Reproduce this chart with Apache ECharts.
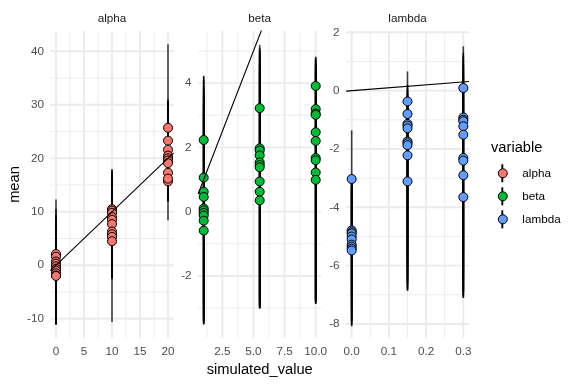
<!DOCTYPE html>
<html><head><meta charset="utf-8">
<script src="https://cdn.jsdelivr.net/npm/echarts@6/dist/echarts.min.js"></script>
<style>html,body{margin:0;padding:0;background:#fff}#c{width:576px;height:384px}</style>
</head><body><div id="c"></div>
<script>
// ---------- data ----------
const variables = ['alpha', 'beta', 'lambda'];
const colors = ['#F8766D', '#00BA38', '#619CFF'];

const alphaX = [0,0,0,0,0,0,0,0,0,0, 10,10,10,10,10,10,10,10,10,10, 20,20,20,20,20,20,20,20,20,20];
const alphaMean = [2.1,1.6,0.7,0.3,-0.2,-0.65,-1.0,-1.5,-1.9,-2.0, 10.5,10.2,9.8,9.0,8.5,7.7,6.3,5.8,5.3,4.5, 25.7,23.3,21.6,20.5,20.0,19.6,19.1,17.3,15.7,16.2];
const alphaLower = [-8.5,-9.2,-10.1,-10.6,-11.1,-10.9,-10.8,-11.0,-11.1,-10.9, -10.6,-2.4,-2.2,-2.6,-1.8,-1.5,-2.0,-2.3,-1.9,-2.4, 15.5,14.0,13.2,12.5,12.2,12.0,11.9,8.4,11.9,12.1];
const alphaUpper = [12.3,10.5,9.6,9.2,8.9,8.7,8.8,8.5,8.4,8.2, 18.0,17.8,17.5,17.2,16.9,16.5,15.4,15.0,14.6,13.8, 41.3,31.0,30.8,30.5,30.2,30.6,29.9,29.5,28.7,29.0];

const betaX = [1,1,1,1,1,1,1,1,1,1, 5.5,5.5,5.5,5.5,5.5,5.5,5.5,5.5,5.5,5.5, 10,10,10,10,10,10,10,10,10,10];
const betaMean = [2.23,1.06,0.62,0.46,0.1,0.04,-0.04,-0.12,-0.28,-0.59, 3.22,1.97,1.9,1.75,1.53,1.45,1.38,0.94,0.62,0.35, 3.91,3.19,3.05,3.01,2.47,2.2,1.67,1.6,1.22,0.99];
const betaLower = [-2.9,-3.2,-3.4,-3.51,-3.5,-3.4,-3.45,-3.3,-3.5,-3.4, -2.7,-2.9,-3.0,-3.02,-2.95,-3.0,-2.9,-2.8,-2.9,-3.0, -2.5,-2.7,-2.8,-2.87,-2.85,-2.8,-2.75,-2.87,-2.8,-2.7];
const betaUpper = [4.23,4.2,4.1,3.9,3.8,3.7,3.6,3.4,3.3,3.0, 5.19,5.1,5.0,5.05,4.9,5.0,4.8,4.6,4.5,4.3, 4.82,4.8,4.7,4.75,4.6,4.7,4.5,4.6,4.4,4.3];

const lambdaX = [0,0,0,0,0,0,0,0,0,0, 0.15,0.15,0.15,0.15,0.15,0.15,0.15,0.15,0.15,0.15, 0.3,0.3,0.3,0.3,0.3,0.3,0.3,0.3,0.3,0.3];
const lambdaMean = [-3.03,-4.79,-4.85,-4.9,-5.0,-5.1,-5.28,-5.35,-5.42,-5.48, -0.37,-0.8,-1.14,-1.2,-1.29,-1.74,-1.8,-1.87,-2.22,-3.11, 0.09,-0.92,-1.0,-1.05,-1.22,-1.51,-2.31,-2.4,-2.9,-3.65];
const lambdaLower = [-4.7,-6.6,-7.0,-7.5,-7.9,-8.08,-8.0,-7.8,-8.05,-7.9, -5.0,-5.5,-6.0,-6.86,-6.3,-6.5,-6.7,-6.6,-6.8,-6.85, -5.5,-6.2,-6.5,-6.8,-7.11,-6.9,-7.0,-7.05,-6.9,-7.1];
const lambdaUpper = [-1.36,-3.0,-3.1,-3.05,-3.2,-3.1,-3.3,-3.2,-3.4,-3.3, 0.66,0.2,0.0,-0.1,0.1,-0.3,-0.4,-0.2,-0.6,-1.2, 1.52,1.2,1.1,1.3,0.9,0.8,0.5,0.6,0.2,-0.4];

// tick values and labels
const alphaXTicks = [0,5,10,15,20];         const alphaXLabels = ['0','5','10','15','20'];
const alphaXMinor = [2.5,7.5,12.5,17.5];
const alphaYTicks = [-10,0,10,20,30,40];     const alphaYLabels = ['-10','0','10','20','30','40'];
const alphaYMinor = [-5,5,15,25,35];
const betaXTicks = [2.5,5,7.5,10];           const betaXLabels = ['2.5','5.0','7.5','10.0'];
const betaXMinor = [1.25,3.75,6.25,8.75];
const betaYTicks = [-2,0,2,4];               const betaYLabels = ['-2','0','2','4'];
const betaYMinor = [-3,-1,1,3,5];
const lambdaXTicks = [0,0.1,0.2,0.3];        const lambdaXLabels = ['0.0','0.1','0.2','0.3'];
const lambdaXMinor = [0.05,0.15,0.25];
const lambdaYTicks = [-8,-6,-4,-2,0,2];      const lambdaYLabels = ['-8','-6','-4','-2','0','2'];
const lambdaYMinor = [-7,-5,-3,-1,1];

// axis ranges
const alphaXRange = [-1, 21];        const alphaYRange = [-13.6, 43.8];
const betaXRange = [0.55, 10.45];    const betaYRange = [-3.93, 5.62];
const lambdaXRange = [-0.015, 0.315]; const lambdaYRange = [-8.48, 2.045];

// ---------- build ----------
const FONT = 'Liberation Sans, Arial, sans-serif';
const panels = [
  {x: alphaX, m: alphaMean, lo: alphaLower, hi: alphaUpper, xr: alphaXRange, yr: alphaYRange,
   xt: alphaXTicks, xl: alphaXLabels, xm: alphaXMinor, yt: alphaYTicks, yl: alphaYLabels, ym: alphaYMinor},
  {x: betaX, m: betaMean, lo: betaLower, hi: betaUpper, xr: betaXRange, yr: betaYRange,
   xt: betaXTicks, xl: betaXLabels, xm: betaXMinor, yt: betaYTicks, yl: betaYLabels, ym: betaYMinor},
  {x: lambdaX, m: lambdaMean, lo: lambdaLower, hi: lambdaUpper, xr: lambdaXRange, yr: lambdaYRange,
   xt: lambdaXTicks, xl: lambdaXLabels, xm: lambdaXMinor, yt: lambdaYTicks, yl: lambdaYLabels, ym: lambdaYMinor}
];
const gridBoxes = [
  {left: 50.4, top: 31, width: 123.2, height: 307},
  {left: 198.1, top: 31, width: 123.2, height: 307},
  {left: 346.1, top: 31, width: 122.8, height: 307}
];
function lab(ticks, labels) {
  return v => { for (let i = 0; i < ticks.length; i++) if (Math.abs(ticks[i] - v) < 1e-9) return labels[i]; return ''; };
}
const grid = [], xAxis = [], yAxis = [], series = [], title = [];
panels.forEach((p, i) => {
  grid.push(Object.assign({containLabel: false}, gridBoxes[i]));
  xAxis.push({
    type: 'value', gridIndex: i, min: p.xr[0], max: p.xr[1],
    axisLine: {show: false}, axisTick: {show: false}, splitLine: {show: false},
    axisLabel: {customValues: p.xt, formatter: lab(p.xt, p.xl), color: '#4D4D4D', fontSize: 11.7, margin: 7.5, fontFamily: FONT, hideOverlap: false, showMinLabel: true, showMaxLabel: true},
    name: i === 1 ? 'simulated_value' : '', nameLocation: 'middle', nameGap: 23,
    nameTextStyle: {color: '#000', fontSize: 14.7, fontFamily: FONT}
  });
  yAxis.push({
    type: 'value', gridIndex: i, min: p.yr[0], max: p.yr[1],
    axisLine: {show: false}, axisTick: {show: false}, splitLine: {show: false},
    axisLabel: {customValues: p.yt, formatter: lab(p.yt, p.yl), color: '#4D4D4D', fontSize: 11.7, margin: 6.5, fontFamily: FONT, showMinLabel: true, showMaxLabel: true},
    name: i === 0 ? 'mean' : '', nameLocation: 'middle', nameGap: 28,
    nameTextStyle: {color: '#000', fontSize: 14.7, fontFamily: FONT}
  });
  // grid lines (drawn through the axes' scales)
  const gl = [];
  p.xt.forEach(v => gl.push([v, 0, 1]));
  p.xm.forEach(v => gl.push([v, 0, 0]));
  p.yt.forEach(v => gl.push([v, 1, 1]));
  p.ym.forEach(v => gl.push([v, 1, 0]));
  series.push({
    type: 'custom', xAxisIndex: i, yAxisIndex: i, z: 0, silent: true, data: gl,
    encode: {x: 0},
    renderItem: (params, api) => {
      const v = api.value(0), ori = api.value(1), major = api.value(2);
      let a, b;
      if (ori === 0) { a = api.coord([v, p.yr[0]]); b = api.coord([v, p.yr[1]]); }
      else { a = api.coord([p.xr[0], v]); b = api.coord([p.xr[1], v]); }
      return {type: 'line', shape: {x1: a[0], y1: a[1], x2: b[0], y2: b[1]},
              style: {stroke: '#EBEBEB', lineWidth: major ? 1.9 : 0.95}};
    }
  });
  // error bars
  series.push({
    type: 'custom', xAxisIndex: i, yAxisIndex: i, z: 2, silent: true,
    data: p.x.map((x, k) => [x, p.lo[k], p.hi[k]]),
    encode: {x: 0, y: [1, 2]},
    renderItem: (params, api) => {
      const a = api.coord([api.value(0), api.value(1)]);
      const b = api.coord([api.value(0), api.value(2)]);
      return {type: 'line', shape: {x1: a[0], y1: a[1], x2: b[0], y2: b[1]},
              style: {stroke: 'rgba(0,0,0,0.75)', lineWidth: 1.6}};
    }
  });
  // points
  series.push({
    type: 'scatter', name: variables[i], xAxisIndex: i, yAxisIndex: i, z: 3,
    symbol: 'circle', symbolSize: 9,
    itemStyle: {color: colors[i], borderColor: '#000', borderWidth: 1, opacity: 1},
    data: p.x.map((x, k) => [x, p.m[k]])
  });
  // identity line y = x
  series.push({
    type: 'line', xAxisIndex: i, yAxisIndex: i, z: 4, silent: true, clip: true,
    showSymbol: false, symbol: 'none',
    lineStyle: {color: '#000', width: 1.1},
    data: [[p.xr[0], p.xr[0]], [p.xr[1], p.xr[1]]]
  });
  title.push({
    text: variables[i], left: gridBoxes[i].left + gridBoxes[i].width / 2, top: 12.5,
    textAlign: 'center', padding: 0,
    textStyle: {fontSize: 11.7, fontWeight: 'normal', color: '#1A1A1A', fontFamily: FONT}
  });
});
title.push({
  text: 'variable', left: 491, top: 140, padding: 0,
  textStyle: {fontSize: 14.7, fontWeight: 'normal', color: '#000', fontFamily: FONT}
});

const keyCx = 502.3, keyCy = [173.3, 196.3, 219.3];
const option = {
  animation: false,
  backgroundColor: '#fff',
  textStyle: {fontFamily: FONT},
  title: title,
  grid: grid, xAxis: xAxis, yAxis: yAxis, series: series,
  legend: {
    data: variables, orient: 'vertical', left: keyCx - 4.5, top: 166.3, padding: 0,
    itemWidth: 9, itemHeight: 9, itemGap: 9, selectedMode: false, icon: 'circle',
    itemStyle: {borderColor: '#000', borderWidth: 1},
    textStyle: {fontSize: 11.7, color: '#000', lineHeight: 14, fontFamily: FONT, padding: [0, 0, 0, 10]}
  },
  graphic: keyCy.map(y => ({
    type: 'line', z: 0, silent: true,
    shape: {x1: keyCx, y1: y - 9, x2: keyCx, y2: y + 9},
    style: {stroke: '#000', lineWidth: 1.9}
  }))
};
const chart = echarts.init(document.getElementById('c'), null, {renderer: 'canvas'});
chart.setOption(option);
</script></body></html>
